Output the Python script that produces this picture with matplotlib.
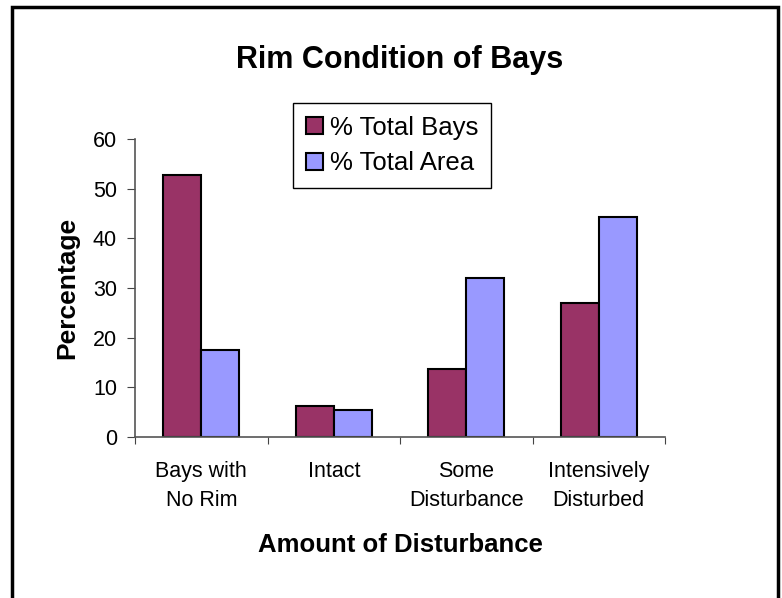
import numpy as np
import matplotlib.pyplot as plt
from matplotlib.patches import Rectangle

categories = ["Bays with\nNo Rim", "Intact", "Some\nDisturbance", "Intensively\nDisturbed"]
total_bays = [52.7, 6.2, 13.6, 26.9]
total_area = [17.5, 5.4, 32.1, 44.2]
series_names = ["% Total Bays", "% Total Area"]
colors = ["#993366", "#9999FF"]

plt.rcParams["font.family"] = ["Liberation Sans", "DejaVu Sans"]

fig = plt.figure(figsize=(7.82, 5.98), dpi=100)
ax = fig.add_axes([135 / 782, 1 - 437 / 598, 530 / 782, 298 / 598])

x = np.arange(len(categories))
w = 0.287
b1 = ax.bar(x - w / 2, total_bays, w, color=colors[0], edgecolor="black", linewidth=1.5,
            label=series_names[0])
b2 = ax.bar(x + w / 2, total_area, w, color=colors[1], edgecolor="black", linewidth=1.5,
            label=series_names[1])

ax.set_xlim(-0.5, len(categories) - 0.5)
ax.set_ylim(0, 60)
ax.set_yticks(np.arange(0, 61, 10))

# ticks between categories, labels in the middle
ax.set_xticks(np.arange(-0.5, len(categories), 1.0))
ax.set_xticklabels([])
ax.set_xticks(x, minor=True)
ax.set_xticklabels(categories, minor=True, fontsize=15.5, linespacing=1.5)
ax.tick_params(axis="x", which="minor", length=0, pad=17)
ax.tick_params(axis="x", which="major", length=5, color="#444444")
ax.tick_params(axis="y", length=6, labelsize=15.5, pad=7, color="#444444")

for s in ["top", "right"]:
    ax.spines[s].set_visible(False)
for s in ["left", "bottom"]:
    ax.spines[s].set_color("#555555")
    ax.spines[s].set_linewidth(1.2)

ax.set_ylabel("Percentage", fontsize=19, fontweight="bold", labelpad=10)
ax.set_xlabel("Amount of Disturbance", fontsize=18.5, fontweight="bold", labelpad=16)

fig.text(400 / 782, 1 - 60 / 598, "Rim Condition of Bays", fontsize=22,
         fontweight="bold", ha="center", va="center")

leg = fig.legend(handles=[b1, b2], loc="upper left",
                 bbox_to_anchor=(293 / 782, 1 - 103 / 598),
                 fontsize=18.5, fancybox=False, frameon=True, framealpha=1,
                 edgecolor="black", handlelength=0.65, handleheight=0.65,
                 handletextpad=0.3, labelspacing=0.45, borderpad=0.5,
                 borderaxespad=0)
leg.get_frame().set_linewidth(1.0)

# chart border
fig.patches.append(Rectangle((12 / 782, -0.05), 766 / 782, 1 - 7 / 598 + 0.05,
                             transform=fig.transFigure, fill=False,
                             edgecolor="black", linewidth=2.5))

fig.savefig("out.png", dpi=100)
